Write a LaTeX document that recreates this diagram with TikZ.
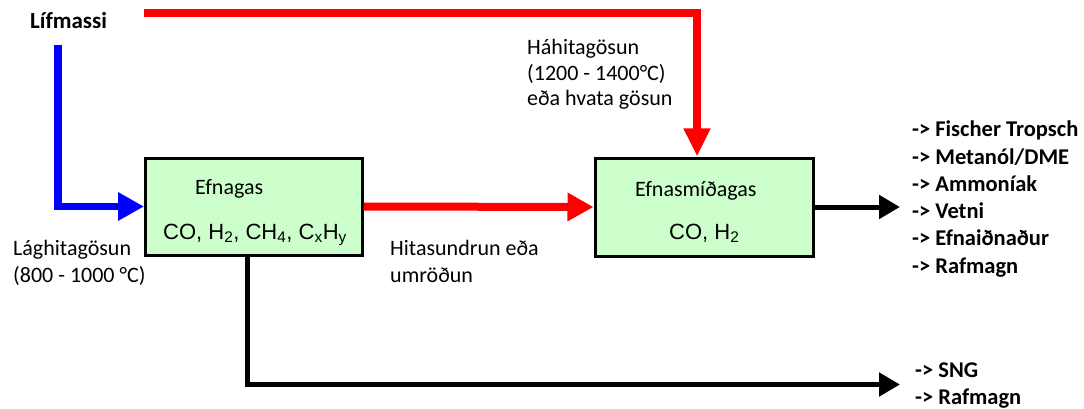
\documentclass[tikz,border=0pt]{standalone}
\usepackage{fontspec}
\setmainfont{Carlito}
\newfontfamily\chemfont{Liberation Sans}
\usetikzlibrary{arrows.meta,calc}
\definecolor{boxgreen}{HTML}{CCFFCC}
\definecolor{flowred}{HTML}{FF0000}
\definecolor{flowblue}{HTML}{0000FF}
\begin{document}
\begin{tikzpicture}[x=1pt,y=-1pt,
  lbl/.style={anchor=base west,inner sep=0pt,font=\fontsize{22}{27}\selectfont},
  blbl/.style={anchor=base west,inner sep=0pt,font=\fontsize{22.5}{27}\selectfont\bfseries},
  chem/.style={anchor=base west,inner sep=0pt,font=\fontsize{22}{27}\selectfont\chemfont},
  gasbox/.style={draw=black,line width=3pt,fill=boxgreen,inner sep=0pt},
  redflow/.style={draw=flowred,line width=8pt},
  blueflow/.style={draw=flowblue,line width=7.5pt},
  blackflow/.style={draw=black,line width=5pt},
  bigtip/.style={-{Triangle[length=26pt,width=27pt]}},
  smalltip/.style={-{Triangle[length=21pt,width=23pt]}}
]
\useasboundingbox (0,0) rectangle (1084,409);

% process boxes
\node[gasbox,minimum width=216.5pt,minimum height=97pt] (efnagas) at (253.75,206.5) {};
\node[gasbox,minimum width=218pt,minimum height=98pt] (syngas) at (704,207) {};

% box contents
\node[lbl] (efnagasT) at (195,194) {Efnagas};
\node[chem] (efnagasF) at (163,239) {CO, H\textsubscript{2}, CH\textsubscript{4}, C\textsubscript{x}H\textsubscript{y}};
\node[lbl] (syngasT) at (635,196) {Efnasmíðagas};
\node[chem] (syngasF) at (669,239) {CO, H\textsubscript{2}};

% feedstock
\node[blbl,font=\fontsize{23}{27}\selectfont\bfseries] (lif) at (30,29) {Lífmassi};
\coordinate (bluestart) at (58.2,45);
\coordinate (redstart) at (144,13.5);

% routes into the boxes
\draw[blueflow,bigtip] (bluestart) |- (efnagas.west);
\draw[redflow,-{Triangle[length=28pt,width=25pt]}] (redstart) -| ($(syngas.north)+(-7,0)$);
\draw[redflow,bigtip] (efnagas.east) -- (syngas.west);

% outputs
\coordinate (synend) at (900,207);
\coordinate (sngend) at (900,384.5);
\draw[blackflow,smalltip] (syngas.east) -- (synend);
\draw[blackflow,smalltip] ($(efnagas.south)+(-6.75,0)$) |- (sngend);

% route labels
\node[lbl] (lag1) at (13,255) {Lághitagösun};
\node[lbl] (lag2) at (13,282) {(800 - 1000 °C)};
\node[lbl] (hita1) at (390,255) {Hitasundrun eða};
\node[lbl] (hita2) at (390,282) {umröðun};
\node[lbl] (hah1) at (527,55) {Háhitagösun};
\node[lbl] (hah2) at (527,80.5) {(1200 - 1400°C)};
\node[lbl] (hah3) at (527,106) {eða hvata gösun};

% products
\foreach \t [count=\i from 0] in {Fischer Tropsch,Metanól/DME,Ammoníak,Vetni,Efnaiðnaður,Rafmagn}
  \node[blbl] (prod\i) at (912,137+27.2*\i) {-> \t};
\node[blbl] (sng1) at (915,377) {-> SNG};
\node[blbl] (sng2) at (915,404) {-> Rafmagn};
\end{tikzpicture}
\end{document}
